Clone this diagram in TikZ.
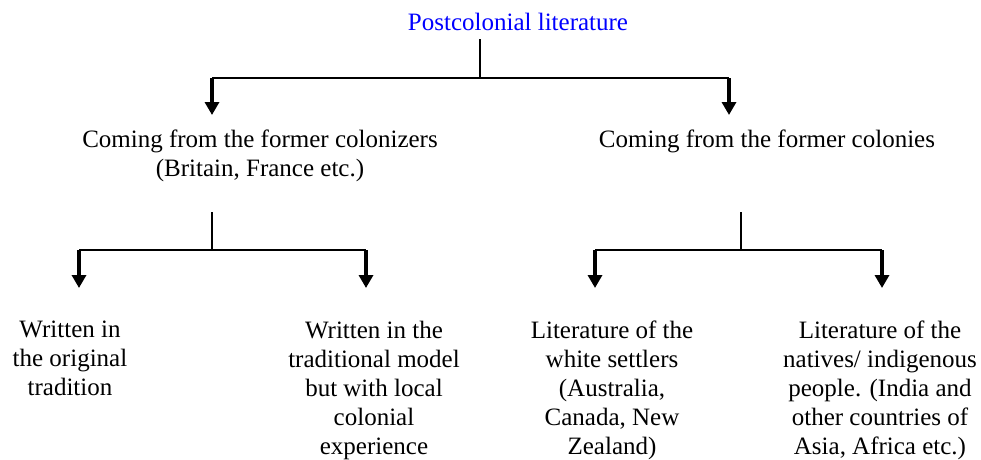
\documentclass[tikz,border=0pt]{standalone}
\usepackage{fontspec}
\setmainfont{Liberation Serif}
\usetikzlibrary{arrows.meta}
\begin{document}
\begin{tikzpicture}[x=1pt,y=-1pt,
  lbl/.style={inner sep=0pt, align=center, font=\fontsize{25}{29}\selectfont, anchor=north},
  hline/.style={line width=1.6pt},
  darrow/.style={line width=3.5pt, -{Triangle[width=14pt,length=13pt]}}]
\useasboundingbox (0,0) rectangle (981,459);
% texts
\node[lbl, text=blue] (root) at (518,13) {Postcolonial literature};
\node[lbl] (a) at (260,130) {Coming from the former colonizers\\(Britain, France etc.)};
\node[lbl] (b) at (767,130) {Coming from the former colonies};
\node[lbl] (a1) at (70,321) {Written in\\the original\\tradition};
\node[lbl] (a2) at (374,321) {Written in the\\traditional model\\but with local\\colonial\\experience};
\node[lbl] (b1) at (612,321) {Literature of the\\white settlers\\(Australia,\\Canada, New\\Zealand)};
\node[lbl] (b2) at (880,321) {Literature of the\\natives/ indigenous\\people. (India and\\other countries of\\Asia, Africa etc.)};
% level 1 connectors
\coordinate (s0) at (480,39);
\coordinate (j0) at (480,78);
\coordinate (h0l) at (212,78);
\coordinate (h0r) at (729,78);
\coordinate (ta) at (212,115);
\coordinate (tb) at (729,115);
\draw[hline] (s0) -- (j0);
\draw[hline] (h0l) -- (h0r);
\draw[darrow] (h0l) -- (ta);
\draw[darrow] (h0r) -- (tb);
% level 2 left
\coordinate (sa) at (212,212);
\coordinate (ja) at (212,250);
\coordinate (hal) at (79,250);
\coordinate (har) at (366,250);
\coordinate (ta1) at (79,288);
\coordinate (ta2) at (366,288);
\draw[hline] (sa) -- (ja);
\draw[hline] (hal) -- (har);
\draw[darrow] (hal) -- (ta1);
\draw[darrow] (har) -- (ta2);
% level 2 right
\coordinate (sb) at (741,212);
\coordinate (jb) at (741,250);
\coordinate (hbl) at (595,250);
\coordinate (hbr) at (882,250);
\coordinate (tb1) at (595,288);
\coordinate (tb2) at (882,288);
\draw[hline] (sb) -- (jb);
\draw[hline] (hbl) -- (hbr);
\draw[darrow] (hbl) -- (tb1);
\draw[darrow] (hbr) -- (tb2);
\end{tikzpicture}
\end{document}
